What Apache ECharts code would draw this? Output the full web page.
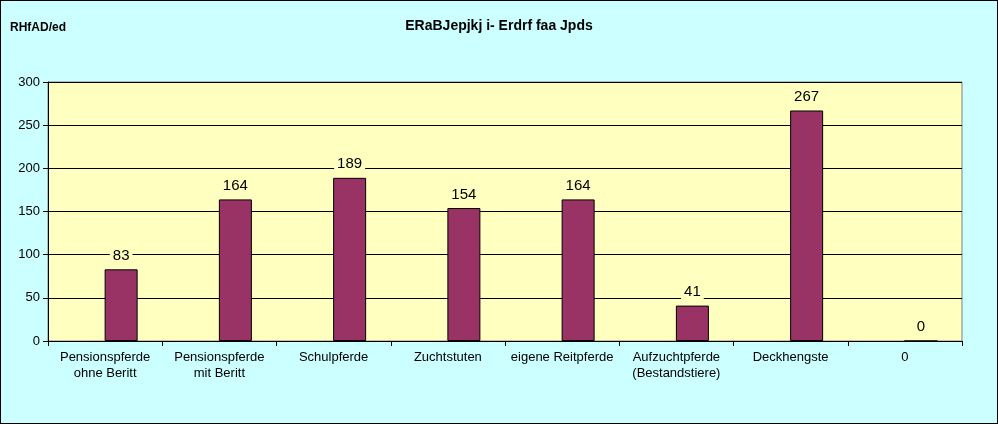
<!DOCTYPE html>
<html><head><meta charset="utf-8">
<script src="https://cdn.jsdelivr.net/npm/echarts@6/dist/echarts.min.js"></script>
<style>body{margin:0}#main{width:998px;height:424px;box-sizing:border-box;border:1px solid #000}</style>
</head><body><div id="main"></div>
<script>
var categories = ['Pensionspferde\nohne Beritt', 'Pensionspferde\nmit Beritt', 'Schulpferde', 'Zuchtstuten', 'eigene Reitpferde', 'Aufzuchtpferde\n(Bestandstiere)', 'Deckhengste', '0'];
var values = [83, 164, 189, 154, 164, 41, 267, 0];
var yTicks = { min: 0, max: 300, interval: 50 };

var myChart = echarts.init(document.getElementById('main'));
myChart.setOption({
    backgroundColor: '#ccffff',
    animation: false,
    title: { text: 'ERaBJepjkj i- Erdrf faa Jpds', left: 'center', top: 13,
        textStyle: { fontFamily: 'Liberation Sans', fontSize: 14, fontWeight: 'bold', color: '#000' } },
    graphic: [{ type: 'text', left: 9, top: 21, style: { text: 'RHfAD/ed', font: 'bold 12px "Liberation Sans"', fill: '#000' } }],
    grid: { left: 47, right: 35, top: 81, bottom: 82, backgroundColor: '#ffffc0', show: true, borderColor: '#808080', borderWidth: 1 },
    xAxis: {
        type: 'category', data: categories,
        axisLine: { lineStyle: { color: '#000' } },
        axisTick: { show: true, lineStyle: { color: '#000' } },
        axisLabel: { color: '#000', fontFamily: 'Liberation Sans', fontSize: 13, interval: 0, lineHeight: 16 }
    },
    yAxis: {
        type: 'value', min: yTicks.min, max: yTicks.max, interval: yTicks.interval,
        axisLine: { show: true, lineStyle: { color: '#000' } },
        axisTick: { show: true, lineStyle: { color: '#000' } },
        axisLabel: { color: '#000', fontFamily: 'Liberation Sans', fontSize: 13 },
        splitLine: { lineStyle: { color: '#000' } }
    },
    series: [
        // empty placeholder so the bars sit right of the category centre
        { type: 'bar', data: [], barWidth: 33, barGap: '-3%', silent: true },
        {
            type: 'bar', data: values, barWidth: 33, barGap: '-3%',
            itemStyle: { color: '#993366', borderColor: '#000', borderWidth: 1 },
            label: { show: true, position: 'top', distance: 6, color: '#000', fontFamily: 'Liberation Sans', fontSize: 15,
                backgroundColor: '#ffffc0', padding: [0, 3] }
        }
    ]
});
</script></body></html>
